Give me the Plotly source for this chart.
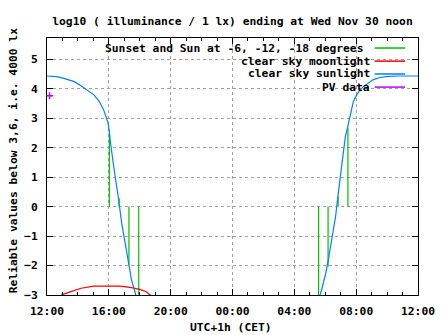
import plotly.graph_objects as go

# ---------------- data ----------------
series_names = [
    "Sunset and Sun at -6, -12, -18 degrees",
    "clear sky moonlight",
    "clear sky sunlight",
    "PV data",
]

# clear sky sunlight (evening part)
sun_eve_t = ["2022-11-29 12:00", "2022-11-29 12:37", "2022-11-29 13:02", "2022-11-29 13:28",
             "2022-11-29 13:46", "2022-11-29 14:12", "2022-11-29 14:37", "2022-11-29 15:02",
             "2022-11-29 15:22", "2022-11-29 15:40", "2022-11-29 15:53", "2022-11-29 15:56",
             "2022-11-29 16:02", "2022-11-29 16:06", "2022-11-29 16:19", "2022-11-29 16:31",
             "2022-11-29 16:37", "2022-11-29 16:50", "2022-11-29 17:03", "2022-11-29 17:16",
             "2022-11-29 17:28", "2022-11-29 17:43", "2022-11-29 17:48"]
sun_eve_v = [4.43, 4.41, 4.36, 4.30, 4.24, 4.10, 3.96, 3.79, 3.58, 3.28, 2.94, 2.88,
             2.55, 2.20, 1.35, 0.68, 0.30, -0.57, -1.25, -1.92, -2.49, -2.94, -3.2]

# clear sky sunlight (morning part)
sun_morn_t = ["2022-11-30 05:36", "2022-11-30 05:40", "2022-11-30 05:49", "2022-11-30 06:02",
              "2022-11-30 06:14", "2022-11-30 06:27", "2022-11-30 06:40", "2022-11-30 06:52",
              "2022-11-30 07:05", "2022-11-30 07:18", "2022-11-30 07:27", "2022-11-30 07:39",
              "2022-11-30 07:49", "2022-11-30 08:02", "2022-11-30 08:15", "2022-11-30 08:28",
              "2022-11-30 08:46", "2022-11-30 09:05", "2022-11-30 09:31", "2022-11-30 09:56",
              "2022-11-30 10:40", "2022-11-30 12:00"]
sun_morn_v = [-3.2, -3.0, -2.72, -2.26, -1.70, -1.02, -0.34, 0.56, 1.47, 2.37, 2.70, 3.20,
              3.56, 3.79, 3.96, 4.07, 4.19, 4.30, 4.38, 4.41, 4.43, 4.43]

# clear sky moonlight
moon_t = ["2022-11-29 12:51", "2022-11-29 12:56", "2022-11-29 13:21", "2022-11-29 13:46",
          "2022-11-29 14:12", "2022-11-29 15:02", "2022-11-29 16:00", "2022-11-29 16:44",
          "2022-11-29 17:22", "2022-11-29 18:00", "2022-11-29 18:25", "2022-11-29 18:44",
          "2022-11-29 18:48"]
moon_v = [-3.05, -3.0, -2.92, -2.85, -2.77, -2.70, -2.69, -2.70, -2.74, -2.81, -2.89, -3.0, -3.05]

# sunset / sunrise and twilight events (impulses)
event_t = ["2022-11-29 16:02", "2022-11-29 16:40", "2022-11-29 17:18", "2022-11-29 17:56",
           "2022-11-30 05:34", "2022-11-30 06:11", "2022-11-30 06:50", "2022-11-30 07:28"]
event_v = [2.6, 0.28, -1.98, -3.6, -3.6, -2.04, 0.34, 2.66]

# PV data
pv_t = ["2022-11-29 12:10"]
pv_v = [3.76]

x_range = ["2022-11-29 12:00", "2022-11-30 12:00"]
y_range = [-3, 5.72]

# ---------------- style ----------------
FONT = "DejaVu Sans Mono"
FS = 11.3
c_green = "#00C000"
c_red = "#FF0000"
c_blue = "#0080FF"
c_mag = "#C000FF"
colors = [c_green, c_red, c_blue, c_mag]

# ---------------- figure ----------------
fig = go.Figure()

imp_x, imp_y = [], []
for t, v in zip(event_t, event_v):
    imp_x += [t, t, None]
    imp_y += [0, v, None]

fig.add_trace(go.Scatter(x=imp_x, y=imp_y, mode="lines", name=series_names[0],
                         line=dict(color=c_green, width=1.2), hoverinfo="skip"))
fig.add_trace(go.Scatter(x=moon_t, y=moon_v, mode="lines", name=series_names[1],
                         line=dict(color=c_red, width=1.2)))
fig.add_trace(go.Scatter(x=sun_eve_t + [None] + sun_morn_t,
                         y=sun_eve_v + [None] + sun_morn_v,
                         mode="lines", name=series_names[2], connectgaps=False,
                         line=dict(color=c_blue, width=1.2)))
fig.add_trace(go.Scatter(x=pv_t, y=pv_v, mode="markers", name=series_names[3],
                         marker=dict(symbol="cross-thin", size=5, color=c_mag,
                                     line=dict(color=c_mag, width=1.5))))

# manual gnuplot-style key (text right-aligned, sample on the right)
row_y = [0.961, 0.910, 0.860, 0.809]
text_x = [0.858, 0.877, 0.877, 0.877]
shapes = [dict(type="rect", xref="paper", yref="paper", x0=0.137, x1=0.979, y0=0.797, y1=1.0,
               fillcolor="white", line=dict(width=0), layer="between")]
annotations = []
for name, col, yy, xx in zip(series_names, colors, row_y, text_x):
    annotations.append(dict(text=name, x=xx, y=yy, xref="paper", yref="paper",
                            xanchor="right", yanchor="middle", showarrow=False,
                            font=dict(family=FONT, size=FS, color="black", weight="bold")))
    shapes.append(dict(type="line", xref="paper", yref="paper", x0=0.883, x1=0.965,
                       y0=yy, y1=yy, line=dict(color=col, width=1.5), layer="above"))

annotations.append(dict(text="Reliable values below 3,6, i.e. 4000 lx", textangle=-90,
                        x=-0.0897, y=0.523, xref="paper", yref="paper",
                        xanchor="center", yanchor="middle", showarrow=False,
                        font=dict(family=FONT, size=FS, color="black", weight="bold")))
annotations.append(dict(text="UTC+1h (CET)", x=0.496, y=-0.128, xref="paper", yref="paper",
                        xanchor="center", yanchor="middle", showarrow=False,
                        font=dict(family=FONT, size=FS, color="black", weight="bold")))

fig.update_layout(
    width=447, height=335,
    margin=dict(l=47, r=21, t=38, b=40),
    paper_bgcolor="white", plot_bgcolor="white",
    showlegend=False,
    font=dict(family=FONT, size=FS, color="black", weight="bold"),
    title=dict(text="log10 ( illuminance / 1 lx) ending at Wed Nov 30 noon",
               x=0.5, xref="paper", xanchor="center", y=0.937, yanchor="middle",
               font=dict(family=FONT, size=FS, color="black", weight="bold")),
    shapes=shapes,
    annotations=annotations,
)

fig.update_xaxes(
    type="date", range=x_range, tick0="2022-11-29 12:00", dtick=4 * 3600 * 1000,
    tickformat="%H:%M", ticks="inside", ticklen=6, tickcolor="black", tickwidth=1,
    showline=True, linecolor="black", linewidth=1, mirror="ticks",
    showgrid=True, gridcolor="#a0a0a0", griddash="dot", gridwidth=1,
    ticklabelstandoff=5,
    minor=dict(dtick=3600 * 1000, ticks="inside", ticklen=3, tickcolor="black", showgrid=False),
    zeroline=False,
)
fig.update_yaxes(
    range=y_range, tick0=0, dtick=1, ticks="inside", ticklen=6, tickcolor="black", tickwidth=1,
    showline=True, linecolor="black", linewidth=1, mirror="ticks",
    showgrid=True, gridcolor="#a0a0a0", griddash="dot", gridwidth=1,
    ticklabelstandoff=6,
    zeroline=False,
)

fig.write_html("out.html")
